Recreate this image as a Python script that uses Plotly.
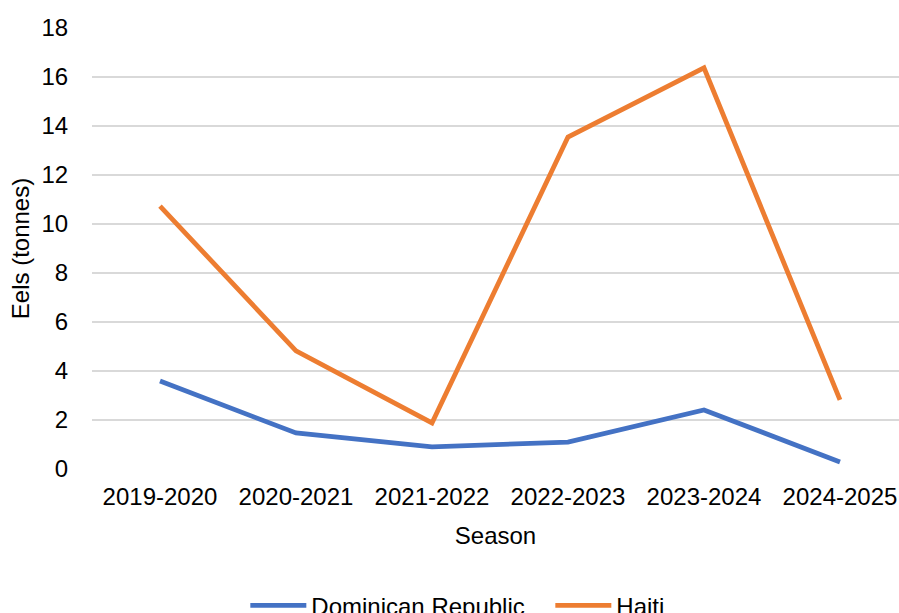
import plotly.graph_objects as go

seasons = ["2019-2020", "2020-2021", "2021-2022", "2022-2023", "2023-2024", "2024-2025"]
dominican_republic = [3.59, 1.47, 0.90, 1.10, 2.41, 0.29]
haiti = [10.73, 4.82, 1.88, 13.55, 16.37, 2.82]

fig = go.Figure()
fig.add_trace(go.Scatter(x=seasons, y=dominican_republic, mode="lines", name="Dominican Republic",
                         line=dict(color="#4472C4", width=4.8)))
fig.add_trace(go.Scatter(x=seasons, y=haiti, mode="lines", name="Haiti",
                         line=dict(color="#ED7D31", width=4.8)))

font = dict(family="Liberation Sans, Arial, sans-serif", size=24, color="#000000")
fig.update_layout(
    width=899, height=613,
    margin=dict(l=92, r=0, t=28, b=144, autoexpand=False),
    paper_bgcolor="white", plot_bgcolor="white",
    font=font,
    showlegend=True,
    legend=dict(orientation="h", x=0.19, xanchor="left", y=-0.259, yanchor="top",
                font=dict(size=24), itemwidth=56, entrywidth=234, entrywidthmode="pixels",
                traceorder="normal"),
    xaxis=dict(type="category", range=[-0.5, 5.434], showgrid=False, zeroline=False,
               showline=False, ticks="outside", ticklen=6, tickcolor="rgba(0,0,0,0)",
               automargin=False,
               title=dict(text="Season", standoff=18, font=dict(size=24))),
    yaxis=dict(range=[0, 18], dtick=2, showgrid=True, gridcolor="#D9D9D9", gridwidth=1.5,
               zeroline=False, showline=False, ticks="outside", ticklen=18,
               tickcolor="rgba(0,0,0,0)", automargin=False,
               title=dict(text="Eels (tonnes)", standoff=5, font=dict(size=24))),
)
fig.write_html("out.html")
